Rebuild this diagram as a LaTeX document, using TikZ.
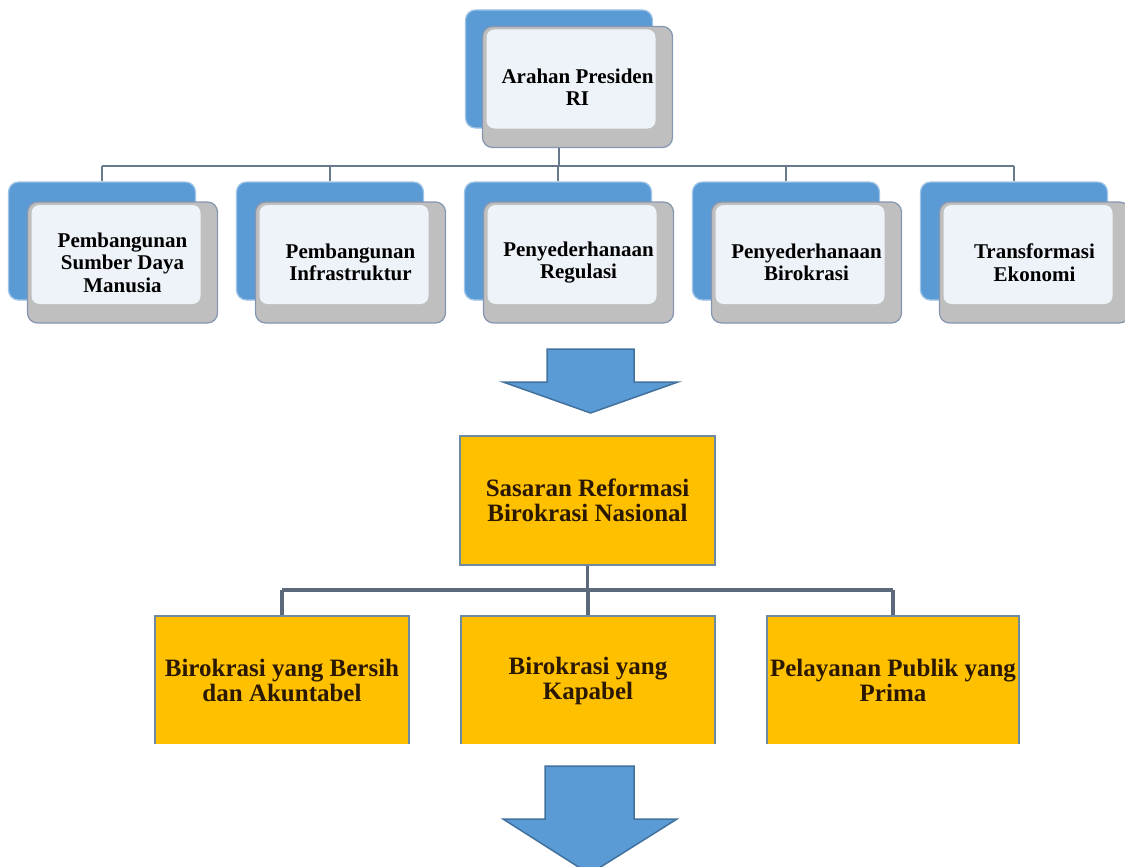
\documentclass[tikz,border=0pt]{standalone}
\usepackage{fontspec}
\setmainfont{Liberation Serif}

\definecolor{bluefill}{HTML}{5B9BD5}
\definecolor{blueedge}{HTML}{9DC3E6}
\definecolor{grayfill}{HTML}{BFBFBF}
\definecolor{grayedge}{HTML}{8496B0}
\definecolor{palefill}{HTML}{EEF3F9}
\definecolor{goalfill}{HTML}{FFC000}
\definecolor{goaledge}{HTML}{6F8AA0}
\definecolor{goaltext}{HTML}{2A1800}
\definecolor{arrowedge}{HTML}{41719C}

\begin{document}
\begin{tikzpicture}[x=1pt,y=-1pt,
		backbox/.style={draw=blueedge, fill=bluefill, rounded corners=10pt, line width=1.2pt,
			minimum width=187pt, minimum height=118pt},
		frontbox/.style={draw=grayedge, fill=grayfill, rounded corners=10pt, line width=1.2pt,
			minimum width=190pt, minimum height=121pt, inner sep=0pt, align=center,
			font=\fontsize{21}{22.5}\selectfont\bfseries,
			path picture={\fill[palefill, rounded corners=8pt]
				([shift={(4pt,-3pt)}]path picture bounding box.north west) rectangle
				([shift={(-17pt,19pt)}]path picture bounding box.south east);}},
		goalbox/.style={draw=goaledge, fill=goalfill, line width=1.5pt, text=goaltext,
			minimum width=254pt, minimum height=129pt, inner sep=0pt, align=center,
			font=\fontsize{25}{25}\selectfont\bfseries},
		uplink/.style={draw=grayedge!80!black, line width=2pt},
		lowlink/.style={draw=grayedge!70!black, line width=3.5pt},
		bigarrow/.style={fill=bluefill, draw=arrowedge, line width=1.5pt, line join=miter}]
		\useasboundingbox (0,0) rectangle (1125,867);
		\clip (0,0) rectangle (1125,867);
		
		% Coordinates
		\coordinate (bus) at (0,166);
		\coordinate (bus2) at (0,590);
		
		% Top node
		\node[backbox] (arahan-bg) at (559,69) {};
		\node[frontbox] (arahan) at (577.5,87) {Arahan Presiden\\RI};
		
		% Second row
		\foreach \n/\i/\txt in {sdm/0/{Pembangunan\\Sumber Daya\\Manusia},
				infra/1/{Pembangunan\\Infrastruktur},
				regulasi/2/{Penyederhanaan\\Regulasi},
				birokrasi/3/{Penyederhanaan\\Birokrasi},
				ekonomi/4/{Transformasi\\Ekonomi}} {
			\node[backbox] (\n-bg) at (102+228*\i,241) {};
			\node[frontbox] (\n) at (122.5+228*\i,262.5) {\txt};
		}
		
		% Upper connectors
		\draw[uplink] (arahan.south -| arahan-bg) -- (arahan-bg |- bus);
		\draw[uplink] (sdm-bg.north |- bus) -- (ekonomi-bg.north |- bus);
		\foreach \n in {sdm,infra,regulasi,birokrasi,ekonomi}
			\draw[uplink] (\n-bg |- bus) -- (\n-bg.north);
		
		% First arrow
		\filldraw[bigarrow] (547,349) -- (634,349) -- (634,382) -- (678,382) -- (590.5,413)
			-- (503,382) -- (547,382) -- cycle;
		
		% Goal node
		\node[goalbox, minimum width=255pt] (sasaran) at (587.5,500.5) {Sasaran Reformasi\\Birokrasi Nasional};
		
		% Lower boxes, cut at the bottom
		\begin{scope}
			\clip (0,0) rectangle (1125,743);
			\node[goalbox] (bersih) at (282,680.5) {Birokrasi yang Bersih\\dan Akuntabel};
			\node[goalbox] (kapabel) at (588,680.5) {Birokrasi yang\\Kapabel};
			\node[goalbox, minimum width=252pt] (prima) at (893,680.5) {Pelayanan Publik yang\\Prima};
		\end{scope}
		
		% Lower connectors
		\draw[lowlink] (sasaran.south) -- (sasaran |- bus2);
		\draw[lowlink] (bersih.north |- bus2) -- (prima.north |- bus2);
		\foreach \n in {bersih,kapabel,prima}
			\draw[lowlink] (\n |- bus2) -- (\n.north);
		
		% Second arrow
		\filldraw[bigarrow] (545,766) -- (634,766) -- (634,819) -- (677,819) -- (589.5,874)
			-- (503,819) -- (545,819) -- cycle;
	\end{tikzpicture}
\end{document}
